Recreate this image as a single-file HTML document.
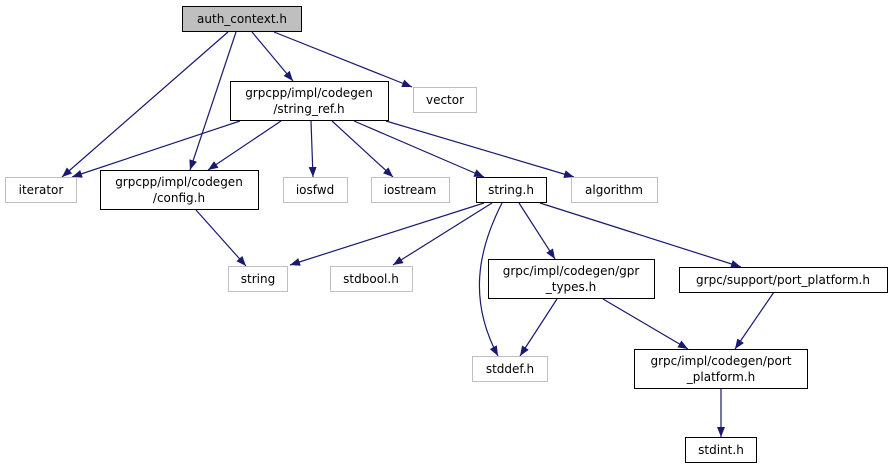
<!DOCTYPE html>
<html><head><meta charset="utf-8"><style>
html,body{margin:0;padding:0;background:#fff;}
svg text{font-family:"DejaVu Sans","Liberation Sans",sans-serif;font-size:12px;fill:#000;}
</style></head><body>
<svg width="893" height="469" viewBox="0 0 893 469" xmlns="http://www.w3.org/2000/svg">
<defs>
<marker id="a" markerWidth="10" markerHeight="8" refX="10" refY="4" orient="auto" markerUnits="userSpaceOnUse">
<path d="M0,0 L10,4 L0,8 Z" fill="#191970"/>
</marker>
</defs>
<g fill="none" stroke="#191970" stroke-width="1.2" marker-end="url(#a)">
<path d="M228,32 L62,177"/>
<path d="M236,32 L190,170"/>
<path d="M252,32 L293,81"/>
<path d="M274,32 L412,87"/>
<path d="M240,121 L72,177"/>
<path d="M281,121 L208,170"/>
<path d="M311,121 L313,177"/>
<path d="M332,121 L393,177"/>
<path d="M354,121 L484,177"/>
<path d="M386,121 L574,177"/>
<path d="M196,210 L246,266"/>
<path d="M484,203 L290,265"/>
<path d="M492,203 L393,265"/>
<path d="M502,203 C478,250 468,300 498,356"/>
<path d="M519,203 L555,259"/>
<path d="M540,203 L741,267"/>
<path d="M557,299 L520,356"/>
<path d="M603,299 L688,349"/>
<path d="M774,292 L735,349"/>
<path d="M721,389 L721,437"/>
</g>
<g stroke-width="1">
<rect x="182.5" y="6.5" width="119" height="25" fill="#bfbfbf" stroke="#000"/>
<rect x="230.5" y="81.5" width="158" height="39" fill="#fff" stroke="#000"/>
<rect x="413.5" y="87.5" width="63" height="25" fill="#fff" stroke="#bfbfbf"/>
<rect x="5.5" y="177.5" width="71" height="25" fill="#fff" stroke="#bfbfbf"/>
<rect x="100.5" y="170.5" width="158" height="39" fill="#fff" stroke="#000"/>
<rect x="283.5" y="177.5" width="64" height="25" fill="#fff" stroke="#bfbfbf"/>
<rect x="371.5" y="177.5" width="78" height="25" fill="#fff" stroke="#bfbfbf"/>
<rect x="476.5" y="177.5" width="70" height="25" fill="#fff" stroke="#000"/>
<rect x="571.5" y="177.5" width="86" height="25" fill="#fff" stroke="#bfbfbf"/>
<rect x="228.5" y="266.5" width="59" height="25" fill="#fff" stroke="#bfbfbf"/>
<rect x="330.5" y="266.5" width="82" height="25" fill="#fff" stroke="#bfbfbf"/>
<rect x="488.5" y="259.5" width="166" height="39" fill="#fff" stroke="#000"/>
<rect x="679.5" y="267.5" width="208" height="25" fill="#fff" stroke="#000"/>
<rect x="472.5" y="356.5" width="75" height="25" fill="#fff" stroke="#bfbfbf"/>
<rect x="634.5" y="349.5" width="173" height="39" fill="#fff" stroke="#000"/>
<rect x="685.5" y="437.5" width="71" height="25" fill="#fff" stroke="#000"/>
</g>
<g text-anchor="middle">
<text x="242" y="23">auth_context.h</text>
<text x="309" y="97">grpcpp/impl/codegen</text>
<text x="309" y="113">/string_ref.h</text>
<text x="445" y="104">vector</text>
<text x="41" y="194">iterator</text>
<text x="179" y="186">grpcpp/impl/codegen</text>
<text x="179" y="202">/config.h</text>
<text x="315" y="194">iosfwd</text>
<text x="410" y="194">iostream</text>
<text x="511" y="194">string.h</text>
<text x="614" y="194">algorithm</text>
<text x="258" y="283">string</text>
<text x="371" y="283">stdbool.h</text>
<text x="571" y="275">grpc/impl/codegen/gpr</text>
<text x="571" y="291">_types.h</text>
<text x="783" y="284">grpc/support/port_platform.h</text>
<text x="510" y="373">stddef.h</text>
<text x="721" y="365">grpc/impl/codegen/port</text>
<text x="721" y="381">_platform.h</text>
<text x="721" y="454">stdint.h</text>
</g>
</svg>
</body></html>
